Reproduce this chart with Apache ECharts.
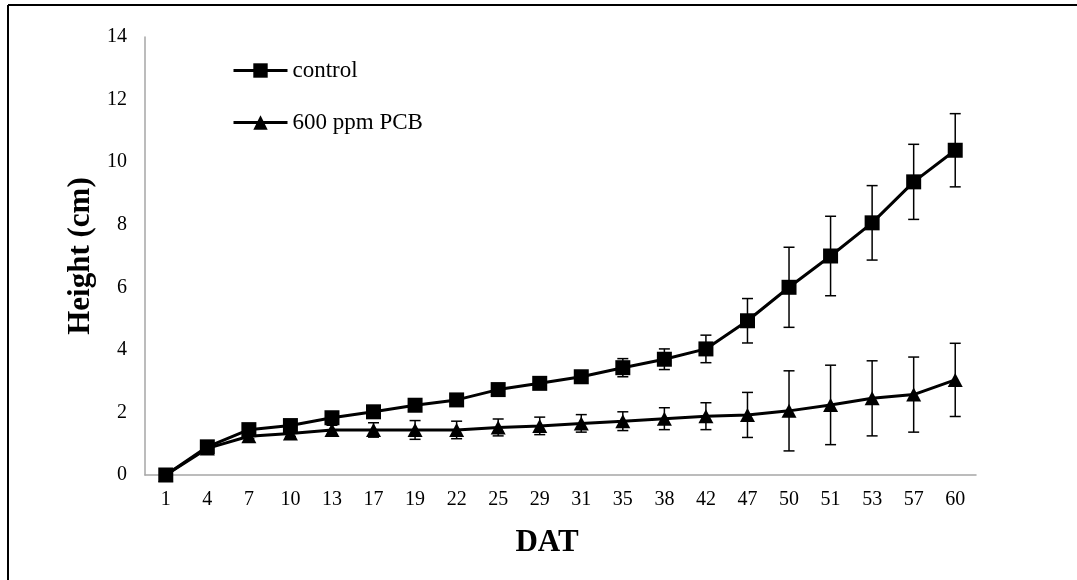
<!DOCTYPE html>
<html>
<head>
<meta charset="utf-8">
<script src="https://cdn.jsdelivr.net/npm/echarts@6/dist/echarts.min.js"></script>
<style>html,body{margin:0;padding:0;background:#fff;}#c{width:1077px;height:580px;}</style>
</head>
<body>
<div id="c"></div>
<script>
var categories = ['1','4','7','10','13','17','19','22','25','29','31','35','38','42','47','50','51','53','57','60'];
var controlValues = [0, 0.9, 1.45, 1.58, 1.83, 2.02, 2.23, 2.4, 2.73, 2.93, 3.14, 3.43, 3.7, 4.03, 4.93, 6.0, 7.0, 8.06, 9.37, 10.38];
var controlErr    = [0, 0.08, 0.1, 0.1, 0.12, 0.12, 0.12, 0.12, 0.13, 0.15, 0.18, 0.29, 0.33, 0.44, 0.71, 1.28, 1.27, 1.19, 1.2, 1.17];
var pcbValues = [0, 0.85, 1.24, 1.33, 1.44, 1.44, 1.44, 1.44, 1.52, 1.57, 1.65, 1.72, 1.8, 1.88, 1.92, 2.05, 2.24, 2.45, 2.57, 3.04];
var pcbErr    = [0, 0.05, 0.08, 0.1, 0.15, 0.23, 0.3, 0.28, 0.27, 0.28, 0.28, 0.3, 0.35, 0.43, 0.72, 1.28, 1.27, 1.2, 1.2, 1.17];
var yTicks = [0, 2, 4, 6, 8, 10, 12, 14];

var FONT = '"Liberation Serif", "Times New Roman", serif';

function errData(vals, errs) {
  return vals.map(function (v, i) { return [i, v - errs[i], v + errs[i]]; });
}
function errRender(params, api) {
  var x = api.value(0);
  var lo = api.coord([x, api.value(1)]);
  var hi = api.coord([x, api.value(2)]);
  var hw = 5.5;
  var st = { stroke: '#000', lineWidth: 1.5 };
  return {
    type: 'group',
    children: [
      { type: 'line', shape: { x1: lo[0], y1: lo[1], x2: hi[0], y2: hi[1] }, style: st },
      { type: 'line', shape: { x1: lo[0] - hw, y1: lo[1], x2: lo[0] + hw, y2: lo[1] }, style: st },
      { type: 'line', shape: { x1: hi[0] - hw, y1: hi[1], x2: hi[0] + hw, y2: hi[1] }, style: st }
    ]
  };
}

var chart = echarts.init(document.getElementById('c'), null, { renderer: 'canvas' });
chart.setOption({
  animation: false,
  backgroundColor: '#fff',
  textStyle: { fontFamily: FONT },
  graphic: [
    { type: 'line', shape: { x1: 8, y1: 5, x2: 1077, y2: 5 }, style: { stroke: '#000', lineWidth: 2 } },
    { type: 'line', shape: { x1: 8, y1: 5, x2: 8, y2: 580 }, style: { stroke: '#000', lineWidth: 2 } }
  ],
  grid: { left: 145, right: 101, top: 37, bottom: 105, containLabel: false },
  legend: {
    orient: 'vertical',
    left: 232,
    top: 59,
    padding: 0,
    itemWidth: 54,
    itemHeight: 18,
    itemGap: 29,
    lineStyle: { width: 3 },
    textStyle: { fontFamily: FONT, fontSize: 23, color: '#000', padding: [0, 0, 0, 0] },
    data: ['control', '600 ppm PCB']
  },
  xAxis: {
    type: 'category',
    data: categories,
    boundaryGap: true,
    name: 'DAT',
    nameLocation: 'middle',
    nameGap: 52,
    nameTextStyle: { fontFamily: FONT, fontSize: 31, fontWeight: 'bold', color: '#000', padding: [0, 27, 0, 0] },
    axisLine: { lineStyle: { color: '#a6a6a6', width: 1.5 } },
    axisTick: { show: false },
    axisLabel: { fontFamily: FONT, fontSize: 20, color: '#000', margin: 15, interval: 0 },
    splitLine: { show: false }
  },
  yAxis: {
    type: 'value',
    min: 0,
    max: 14,
    interval: 2,
    name: 'Height (cm)',
    nameLocation: 'middle',
    nameGap: 48,
    nameTextStyle: { fontFamily: FONT, fontSize: 31, fontWeight: 'bold', color: '#000' },
    axisLine: { show: true, lineStyle: { color: '#a6a6a6', width: 1.5 } },
    axisTick: { show: false },
    axisLabel: { fontFamily: FONT, fontSize: 20, color: '#000', margin: 18 },
    splitLine: { show: false }
  },
  series: [
    {
      type: 'custom',
      name: 'err-control',
      renderItem: errRender,
      data: errData(controlValues, controlErr),
      encode: { x: 0, y: [1, 2] },
      z: 1,
      silent: true
    },
    {
      type: 'custom',
      name: 'err-pcb',
      renderItem: errRender,
      data: errData(pcbValues, pcbErr),
      encode: { x: 0, y: [1, 2] },
      z: 1,
      silent: true
    },
    {
      type: 'line',
      name: 'control',
      data: controlValues,
      symbol: 'rect',
      symbolSize: 15,
      lineStyle: { color: '#000', width: 3 },
      itemStyle: { color: '#000' },
      z: 3
    },
    {
      type: 'line',
      name: '600 ppm PCB',
      data: pcbValues,
      symbol: 'triangle',
      symbolSize: [15, 14],
      lineStyle: { color: '#000', width: 3 },
      itemStyle: { color: '#000' },
      z: 2
    }
  ]
});
</script>
</body>
</html>
